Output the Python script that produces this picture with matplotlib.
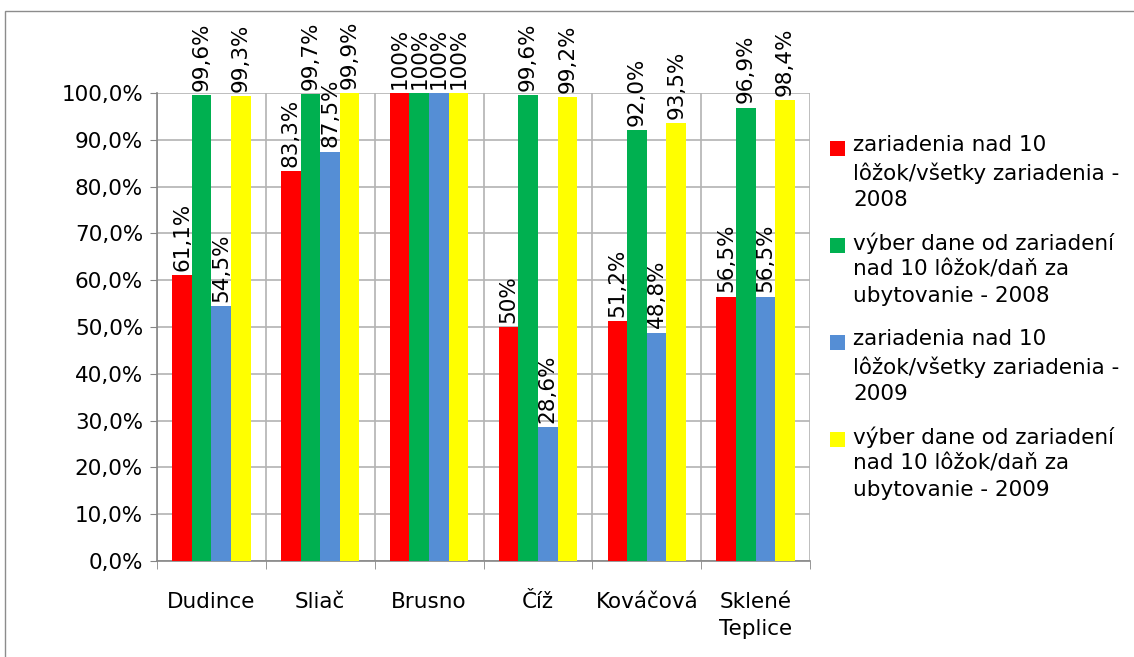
import matplotlib
matplotlib.use("Agg")
import matplotlib.pyplot as plt
import matplotlib.patches as mpatches
import numpy as np

plt.rcParams['font.family'] = ['DejaVu Sans']

categories = ["Dudince", "Sliač", "Brusno", "Číž", "Kováčová", "Sklené\nTeplice"]
series_names = [
    "zariadenia nad 10\nlôžok/všetky zariadenia -\n2008",
    "výber dane od zariadení\nnad 10 lôžok/daň za\nubytovanie - 2008",
    "zariadenia nad 10\nlôžok/všetky zariadenia -\n2009",
    "výber dane od zariadení\nnad 10 lôžok/daň za\nubytovanie - 2009",
]
colors = ["#FF0000", "#00B050", "#558ED5", "#FFFF00"]
red_2008 = [61.1, 83.3, 100.0, 50.0, 51.2, 56.5]
green_2008 = [99.6, 99.7, 100.0, 99.6, 92.0, 96.9]
blue_2009 = [54.5, 87.5, 100.0, 28.6, 48.8, 56.5]
yellow_2009 = [99.3, 99.9, 100.0, 99.2, 93.5, 98.4]
red_labels = ["61,1%", "83,3%", "100%", "50%", "51,2%", "56,5%"]
green_labels = ["99,6%", "99,7%", "100%", "99,6%", "92,0%", "96,9%"]
blue_labels = ["54,5%", "87,5%", "100%", "28,6%", "48,8%", "56,5%"]
yellow_labels = ["99,3%", "99,9%", "100%", "99,2%", "93,5%", "98,4%"]
y_ticks = [0, 10, 20, 30, 40, 50, 60, 70, 80, 90, 100]
y_tick_labels = ["0,0%", "10,0%", "20,0%", "30,0%", "40,0%", "50,0%",
                 "60,0%", "70,0%", "80,0%", "90,0%", "100,0%"]

series = [red_2008, green_2008, blue_2009, yellow_2009]
labels = [red_labels, green_labels, blue_labels, yellow_labels]

W, H = 1134, 657
fig = plt.figure(figsize=(W / 100, H / 100), dpi=100)
# outer chart border
fig.patches.append(mpatches.Rectangle((5 / W, -0.1), 1.2, 1 - 11 / H + 0.1,
                                      transform=fig.transFigure, fill=False,
                                      edgecolor="#8c8c8c", linewidth=1.0))

ax = fig.add_axes([157 / W, 1 - 561 / H, (810 - 157) / W, (561 - 93) / H])
x = np.arange(len(categories))
bw = 0.18
fs = 15.5
for i, (vals, labs, col) in enumerate(zip(series, labels, colors)):
    pos = x + (i - 1.5) * bw
    ax.bar(pos, vals, width=bw, color=col, zorder=3)
    for px, v, lab in zip(pos, vals, labs):
        ax.annotate(lab, (px, v), xytext=(0, 3), textcoords="offset points",
                    rotation=90, ha="center", va="bottom", fontsize=fs,
                    annotation_clip=False, zorder=4)

ax.set_xlim(-0.5, len(categories) - 0.5)
ax.set_ylim(0, 100)
ax.set_yticks(y_ticks)
ax.set_yticklabels(y_tick_labels, fontsize=fs)
ax.set_xticks(x)
ax.set_xticklabels(categories, fontsize=fs, linespacing=1.45)
ax.set_xticks(np.arange(len(categories) + 1) - 0.5, minor=True)
ax.tick_params(axis="x", which="major", length=0, pad=22)
ax.tick_params(axis="x", which="minor", length=6, color="#868686")
ax.tick_params(axis="y", length=5, color="#868686", pad=5)
ax.grid(axis="y", color="#b3b3b3", linewidth=1.2, zorder=0)
ax.grid(axis="x", which="minor", color="#b3b3b3", linewidth=1.2, zorder=0)
for s in ["top", "right"]:
    ax.spines[s].set_visible(False)
for s in ["left", "bottom"]:
    ax.spines[s].set_color("#868686")
    ax.spines[s].set_linewidth(1.2)

# legend (square markers aligned with first text line)
for i, (name, col) in enumerate(zip(series_names, colors)):
    yc = 148 + i * 97
    fig.patches.append(mpatches.Rectangle((830 / W, 1 - (yc + 8) / H), 15 / W, 15 / H,
                                          transform=fig.transFigure, facecolor=col,
                                          edgecolor="none"))
    fig.text(853 / W, 1 - (yc - 13) / H, name, fontsize=fs, va="top", ha="left",
             linespacing=1.4)

fig.savefig("out.png", dpi=100)
